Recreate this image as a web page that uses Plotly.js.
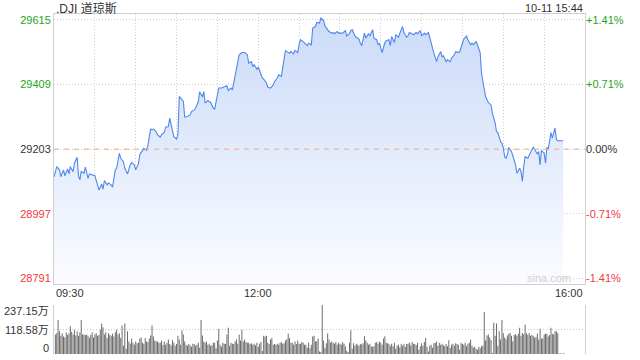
<!DOCTYPE html>
<html><head><meta charset="utf-8">
<script src="https://cdn.plot.ly/plotly-3.0.1.min.js"></script>
<style>html,body{margin:0;padding:0;background:#fff}#chart{width:640px;height:360px}</style>
</head><body><div id="chart"></div>
<script>
const symbolName = '.DJI 道琼斯';
const stampText = '10-11 15:44';
const watermark = 'sina.com';
const prevClose = 29203;
const priceTicks = [28791, 28997, 29203, 29409, 29615];
const priceRange = [28772, 29634];
const sessionMinutes = 390;
const timeLabels = ['09:30', '12:00', '16:00'];
const timeLabelMinutes = [0, 150, 390];
const gridMinutes = [30, 60, 90, 120, 150, 180, 210, 240, 270, 300, 330, 360];

const minutesSinceOpen = [0,2,4,5,7,8,10,11,12,14,15,17,18,19,20,22,23,25,26,29,30,32,33,35,36,37,39,40,42,43,45,46,48,49,51,52,54,56,57,59,60,62,63,65,66,68,69,71,72,73,75,76,78,79,81,82,84,85,87,88,90,91,92,94,95,96,98,100,101,103,104,106,107,109,110,111,113,115,117,118,120,121,123,126,127,128,130,131,133,134,136,138,140,142,143,145,146,147,149,150,152,153,154,156,157,159,161,162,164,165,167,168,170,171,173,174,176,177,179,180,181,183,184,186,187,189,190,192,193,195,196,198,199,201,202,204,205,206,208,209,212,214,215,217,218,219,221,222,224,225,226,228,229,231,232,234,235,237,238,239,240,241,243,244,246,247,248,250,251,253,254,256,257,259,260,261,263,264,266,267,269,270,272,273,275,276,278,279,281,282,284,285,286,288,289,291,292,294,295,297,298,300,301,303,304,306,307,308,310,311,313,314,316,317,319,320,321,322,324,325,326,328,329,330,331,332,333,334,336,337,339,340,342,343,344,345,346,348,349,351,352,353,355,356,357,358,360,361,362,363,365,366,368,369,370,374];

const prices = [29114,29147,29137,29115,29137,29118,29140,29124,29147,29131,29158,29177,29118,29105,29132,29126,29146,29110,29124,29121,29118,29089,29073,29092,29075,29103,29089,29095,29089,29082,29137,29142,29190,29174,29163,29142,29124,29153,29160,29153,29137,29156,29185,29199,29206,29199,29217,29267,29265,29267,29259,29249,29241,29249,29256,29273,29275,29302,29259,29243,29235,29249,29371,29360,29355,29305,29307,29312,29323,29328,29334,29355,29386,29369,29387,29350,29358,29352,29334,29331,29382,29398,29398,29403,29405,29390,29398,29392,29440,29466,29504,29511,29511,29504,29477,29482,29466,29472,29458,29465,29440,29430,29426,29414,29401,29398,29408,29419,29430,29440,29435,29461,29518,29514,29509,29514,29507,29518,29511,29536,29552,29546,29541,29533,29541,29536,29589,29594,29607,29605,29621,29613,29596,29581,29578,29573,29575,29571,29578,29573,29573,29581,29564,29571,29581,29584,29564,29560,29554,29541,29533,29573,29557,29571,29564,29584,29557,29552,29536,29541,29528,29511,29543,29549,29552,29533,29562,29543,29568,29560,29573,29594,29575,29560,29564,29575,29571,29568,29575,29571,29581,29564,29573,29568,29575,29557,29520,29509,29482,29498,29514,29498,29501,29482,29488,29482,29493,29504,29514,29511,29514,29541,29554,29564,29552,29536,29541,29536,29546,29536,29511,29445,29399,29370,29352,29348,29344,29318,29286,29259,29256,29227,29222,29206,29179,29174,29185,29209,29195,29182,29153,29126,29142,29132,29100,29147,29179,29174,29185,29201,29209,29201,29188,29195,29153,29199,29190,29158,29209,29203,29256,29238,29270,29233,29230,29230];

// volume per minute, in 万 (10k shares), minute 0 .. 374
const volumes = [
95,100,165,110,88,100,85,80,105,92,
100,135,108,95,118,90,110,88,105,165,
95,95,92,95,88,78,92,105,80,95,
100,88,92,118,148,130,95,105,78,100,
92,88,98,85,105,118,95,100,78,138,
40,148,25,110,60,50,75,55,45,60,
52,55,75,80,55,50,78,60,58,75,
90,138,85,65,62,60,55,55,65,45,
60,45,55,70,48,42,68,55,40,48,
88,70,45,115,95,60,45,40,48,42,
35,50,48,40,45,55,30,165,90,60,
55,60,45,50,40,42,55,55,28,65,
122,45,35,55,50,48,94,127,40,55,
50,48,60,70,50,94,65,118,60,70,
58,55,55,48,52,45,50,42,55,35,
50,58,15,88,85,89,55,48,70,77,
45,48,45,50,45,55,58,50,52,65,
72,99,78,55,55,45,60,48,65,50,
50,58,55,45,45,30,55,28,45,85,
89,60,62,75,12,10,237,65,30,52,
99,70,55,60,55,50,58,45,55,50,
45,58,50,38,15,10,55,115,25,52,
40,48,45,40,50,46,52,86,65,55,
45,50,38,35,38,55,58,50,60,55,
45,75,86,55,52,48,40,50,38,55,
25,40,45,32,48,40,50,35,48,50,
55,42,58,50,48,42,55,20,38,52,
40,58,77,35,12,40,45,30,52,55,
60,40,55,45,50,42,38,48,38,66,
30,45,50,40,52,48,45,20,55,48,
45,55,38,50,55,69,40,30,35,25,
20,35,28,38,40,204,65,90,94,80,
68,5,151,89,148,40,110,70,165,100,
80,72,90,98,102,88,62,92,96,89,
98,127,88,102,96,143,100,92,102,89,
92,88,80,82,99,70,122,75,75,95,
98,98,85,92,127,98,95,110,110,100,
3,3,3,3,3
];
const volTicks = [0, 118.58, 237.15];
const volTickText = ['0', '118.58万', '237.15万'];

const FONT = 'Liberation Sans, Arial, Noto Sans CJK SC, sans-serif';
const GREEN = '#1ea51e', RED = '#f03a3a', DARK = '#333';
const colorFor = v => v > prevClose ? GREEN : (v < prevClose ? RED : DARK);
const pctText = v => {
  const p = (v - prevClose) / prevClose * 100;
  if (Math.abs(p) < 0.005) return '0.00%';
  return (p > 0 ? '+' : '-') + Math.abs(p).toFixed(2) + '%';
};
const volMinutes = volumes.map((_, i) => i);

const traces = [
  {
    x: minutesSinceOpen, y: prices, type: 'scatter', mode: 'lines',
    line: {color: '#4f88ea', width: 1.1},
    fill: 'tozeroy',
    fillgradient: {type: 'vertical', start: priceRange[0], stop: priceRange[1],
      colorscale: [[0, 'rgb(251,252,255)'], [1, 'rgb(202,218,248)']]},
    hoverinfo: 'skip', xaxis: 'x', yaxis: 'y'
  },
  {
    x: volMinutes, y: volumes, type: 'bar', marker: {color: '#666', line: {width: 0}},
    hoverinfo: 'skip', xaxis: 'x2', yaxis: 'y2'
  },
  {
    x: [minutesSinceOpen[0]], y: [prices[0]], type: 'scatter', mode: 'markers',
    marker: {opacity: 0}, hoverinfo: 'skip', xaxis: 'x', yaxis: 'y3'
  }
];

const annotations = [
  {text: symbolName, xref: 'paper', yref: 'paper', x: 0, y: 1, yshift: 6, xanchor: 'left', yanchor: 'middle', showarrow: false, font: {family: FONT, size: 12, color: DARK}},
  {text: stampText, xref: 'paper', yref: 'paper', x: 1, y: 1, yshift: 6, xanchor: 'right', yanchor: 'middle', showarrow: false, font: {family: FONT, size: 11, color: DARK}},
  {text: watermark, xref: 'paper', yref: 'y', x: 1, xshift: -12, y: priceRange[0], yshift: 6, xanchor: 'right', yanchor: 'middle', showarrow: false, font: {family: FONT, size: 11, color: '#cfcfcf'}}
];
const anchors = ['left', 'center', 'right'];
timeLabels.forEach((t, i) => annotations.push({
  text: t, xref: 'x', yref: 'y', x: timeLabelMinutes[i], y: priceRange[0], yshift: -9,
  xanchor: anchors[i], yanchor: 'middle', showarrow: false, font: {family: FONT, size: 11, color: DARK}
}));
const vshift = [6, 0, -6];
volTicks.forEach((v, i) => annotations.push({
  text: volTickText[i], xref: 'paper', yref: 'y2', x: 0, xshift: -3, y: v, yshift: vshift[i],
  xanchor: 'right', yanchor: 'middle', showarrow: false, font: {family: FONT, size: 11, color: DARK}
}));

const layout = {
  width: 640, height: 360,
  margin: {l: 54, r: 55, t: 14, b: 6},
  paper_bgcolor: '#fff', plot_bgcolor: 'rgba(0,0,0,0)',
  showlegend: false, bargap: 0.3,
  font: {family: FONT, size: 11, color: DARK},
  xaxis: {domain: [0, 1], range: [0, sessionMinutes], anchor: 'y', tickvals: gridMinutes, showticklabels: false, ticks: '',
    showgrid: true, gridcolor: '#cfcfcf', griddash: '1px,2px', zeroline: false,
    showline: true, mirror: true, linecolor: '#d0d0d0', linewidth: 1, fixedrange: true},
  yaxis: {domain: [0.205, 1], range: priceRange, anchor: 'x', tickvals: priceTicks,
    ticktext: priceTicks.map(v => '<span style="color:' + colorFor(v) + '">' + v + '</span>'),
    ticks: '', showgrid: true, gridcolor: '#cfcfcf', griddash: '1px,2px', zeroline: false,
    showline: true, mirror: true, linecolor: '#d0d0d0', linewidth: 1, tickfont: {family: FONT, size: 11}},
  yaxis3: {overlaying: 'y', side: 'right', anchor: 'x', range: priceRange, tickvals: priceTicks,
    ticktext: priceTicks.map(v => '<span style="color:' + colorFor(v) + '">' + pctText(v) + '</span>'),
    ticks: '', showgrid: false, zeroline: false, showline: false, tickfont: {family: FONT, size: 11}},
  xaxis2: {domain: [0, 1], range: [-1, sessionMinutes - 1], anchor: 'y2', showticklabels: false, ticks: '',
    showgrid: false, zeroline: false, showline: false},
  yaxis2: {domain: [0, 0.144], range: [0, volTicks[2]], anchor: 'x2', tickvals: volTicks, showticklabels: false, ticks: '',
    showgrid: true, gridcolor: '#c8c8c8', griddash: '1px,2px', zeroline: false,
    showline: true, mirror: true, linecolor: '#d0d0d0', linewidth: 1},
  shapes: [
    {type: 'line', xref: 'paper', x0: 0, x1: 1, yref: 'y', y0: prevClose, y1: prevClose,
      line: {color: '#f2a77a', width: 1, dash: '5px,5px'}, layer: 'above'}
  ],
  annotations: annotations
};

Plotly.newPlot('chart', traces, layout, {displayModeBar: false, staticPlot: true});
</script>
</body></html>
